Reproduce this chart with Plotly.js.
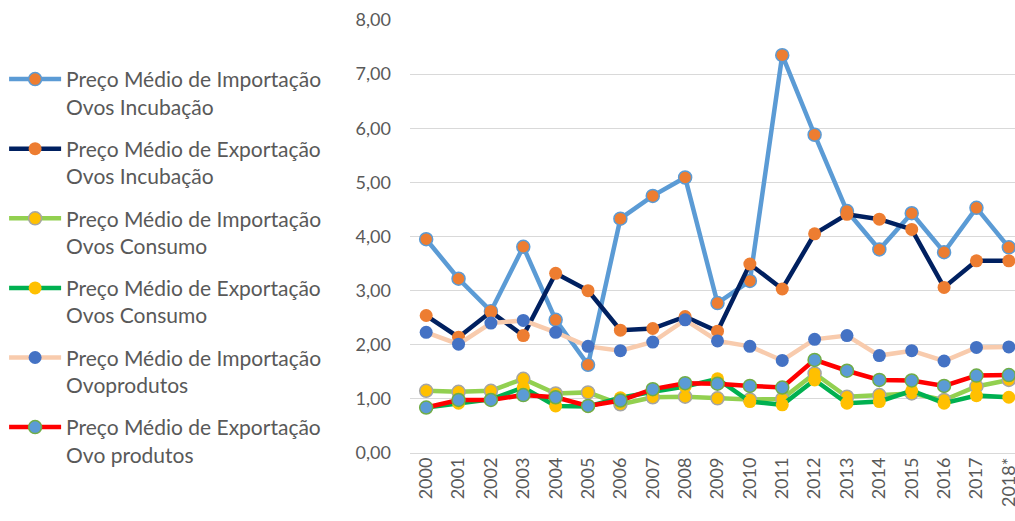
<!DOCTYPE html>
<html>
<head>
<meta charset="utf-8">
<script src="https://cdn.plot.ly/plotly-3.0.1.min.js"></script>
<style>
html,body{margin:0;padding:0;overflow:hidden;background:#fff;}
#chart{width:1025px;height:521px;}
</style>
</head>
<body>
<div id="chart"></div>
<script>
const years = ["2000","2001","2002","2003","2004","2005","2006","2007","2008","2009","2010","2011","2012","2013","2014","2015","2016","2017","2018*"];

const importIncubacao = [3.95,3.22,2.62,3.81,2.46,1.63,4.33,4.75,5.09,2.77,3.18,7.35,5.88,4.47,3.76,4.43,3.71,4.53,3.80];
const exportIncubacao = [2.54,2.14,2.61,2.17,3.32,3.00,2.27,2.30,2.52,2.25,3.49,3.03,4.05,4.41,4.32,4.13,3.06,3.55,3.55];
const importConsumo   = [1.15,1.13,1.15,1.37,1.10,1.12,0.90,1.03,1.04,1.01,0.99,1.00,1.47,1.04,1.07,1.10,0.98,1.23,1.35];
const exportConsumo   = [0.84,0.92,0.99,1.21,0.87,0.86,1.02,1.13,1.23,1.37,0.95,0.89,1.35,0.92,0.95,1.15,0.92,1.06,1.03];
const importOvoprod   = [2.23,2.01,2.40,2.45,2.23,1.97,1.89,2.05,2.46,2.07,1.97,1.71,2.10,2.17,1.80,1.89,1.70,1.95,1.96];
const exportOvoprod   = [0.84,0.98,0.98,1.07,1.03,0.87,0.97,1.18,1.29,1.28,1.24,1.21,1.72,1.52,1.35,1.34,1.24,1.43,1.44];

const seriesNames = [
  "Preço Médio de Importação<br>Ovos Incubação",
  "Preço Médio de Exportação<br>Ovos Incubação",
  "Preço Médio de Importação<br>Ovos Consumo",
  "Preço Médio de Exportação<br>Ovos Consumo",
  "Preço Médio de Importação<br>Ovoprodutos",
  "Preço Médio de Exportação<br>Ovo produtos"
];
const seriesValues = [importIncubacao, exportIncubacao, importConsumo, exportConsumo, importOvoprod, exportOvoprod];

const styles = [
  {line:"#5B9BD5", fill:"#ED7D31", outline:"#5B9BD5", ow:1.5},
  {line:"#002060", fill:"#ED7D31", outline:"#ED7D31", ow:0},
  {line:"#92D050", fill:"#FFC000", outline:"#A5A5A5", ow:1.5},
  {line:"#00B050", fill:"#FFC000", outline:"#FFC000", ow:0},
  {line:"#F8CBAD", fill:"#4472C4", outline:"#4472C4", ow:0},
  {line:"#FF0000", fill:"#5B9BD5", outline:"#70AD47", ow:1.5}
];

const traces = seriesValues.map((vals, i) => ({
  type: "scatter",
  mode: "lines+markers",
  x: years,
  y: vals,
  name: seriesNames[i],
  legendgroup: "g" + i,
  line: {color: styles[i].line, width: 4.5},
  marker: {size: 13, color: styles[i].fill, line: {color: styles[i].outline, width: styles[i].ow}},
  hoverinfo: "x+y+name"
}));

const font = "Lato, 'Open Sans', sans-serif";
const layout = {
  width: 1025,
  height: 521,
  margin: {l: 410, r: 0, t: 20, b: 68},
  paper_bgcolor: "#ffffff",
  plot_bgcolor: "#ffffff",
  separators: ",.",
  font: {family: font, color: "#595959", size: 18},
  showlegend: true,
  legend: {
    x: -0.66, xanchor: "left",
    y: 0.91, yanchor: "top",
    valign: "top",
    itemwidth: 52,
    tracegroupgap: 12,
    font: {family: font, size: 21, color: "#595959"},
    bgcolor: "rgba(0,0,0,0)"
  },
  xaxis: {
    type: "category",
    range: [-0.5, 18.5],
    tickangle: -90,
    showgrid: false,
    zeroline: false,
    showline: false,
    ticks: "",
    tickfont: {family: font, size: 18, color: "#595959"}
  },
  yaxis: {
    range: [0, 8],
    dtick: 1,
    tickformat: ".2f",
    showgrid: true,
    gridcolor: "#D9D9D9",
    gridwidth: 1,
    zeroline: true,
    zerolinecolor: "#D9D9D9",
    zerolinewidth: 1,
    showline: false,
    ticks: "",
    ticklabelstandoff: 18,
    tickfont: {family: font, size: 18, color: "#595959"}
  }
};

Plotly.newPlot("chart", traces, layout, {displayModeBar: false, staticPlot: true});
</script>
</body>
</html>
